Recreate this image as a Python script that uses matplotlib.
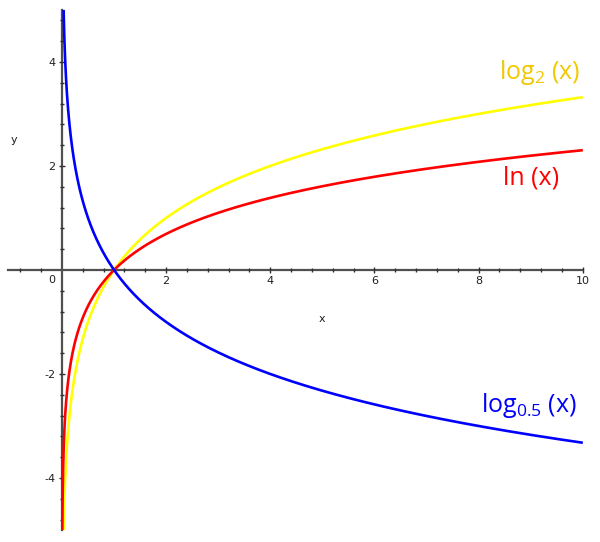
import numpy as np
import matplotlib
matplotlib.use("Agg")
import matplotlib.pyplot as plt
from matplotlib.ticker import FixedLocator

plt.rcParams["axes.unicode_minus"] = False

# data: logarithm bases of the three curves
names = ["log2", "ln", "log0.5"]
bases = [2.0, np.e, 0.5]
line_colors = ["#FFFF00", "#FF0000", "#0000FF"]
label_colors = ["#F2C800", "#FF0000", "#0000FF"]
labels = [r"log$_\mathregular{2}$ (x)", "ln (x)", r"log$_\mathregular{0.5}$ (x)"]
label_pos = [(9.17, 3.8), (9.0, 1.77), (8.96, -2.6)]
x_ticks = [2, 4, 6, 8, 10]
y_ticks = [-4, -2, 2, 4]
x_max = 10
y_lim = 5

fig = plt.figure(figsize=(6.0, 5.42), dpi=100)
ax = fig.add_axes([0, 0, 1, 1])
ax.set_xlim(-1.19, 10.33)
ax.set_ylim(-5.23, 5.19)

for b, c in zip(bases, line_colors):
    xmin = min(b ** -y_lim, b ** y_lim)
    x = np.geomspace(xmin, x_max, 2000)
    y = np.log(x) / np.log(b)
    ax.plot(x, y, color=c, lw=1.9, solid_capstyle="butt", zorder=3)

for t, c, (px, py) in zip(labels, label_colors, label_pos):
    ax.text(px, py, t, color=c, fontsize=18, ha="center", va="center",
            family="Open Sans", fontweight="medium")

for s in ["top", "right"]:
    ax.spines[s].set_visible(False)
ax.spines["left"].set_position(("data", 0))
ax.spines["bottom"].set_position(("data", 0))
ax.spines["left"].set_bounds(-5, 5)
ax.spines["bottom"].set_bounds(-1.04, 10)
for s in ["left", "bottom"]:
    ax.spines[s].set_color("#505050")
    ax.spines[s].set_linewidth(1.6)
    ax.spines[s].set_zorder(1)

ax.xaxis.set_major_locator(FixedLocator(x_ticks))
ax.yaxis.set_major_locator(FixedLocator(y_ticks))
ax.xaxis.set_minor_locator(FixedLocator([v for v in np.arange(-0.8, 10.01, 0.4) if abs(v) > 1e-6]))
ax.yaxis.set_minor_locator(FixedLocator([v for v in np.arange(-4.8, 4.81, 0.4) if abs(v) > 1e-6]))
ax.tick_params(which="both", direction="inout", color="#303030", width=1,
               labelsize=8, labelcolor="#202020")
ax.tick_params(which="major", length=5, pad=2)
ax.tick_params(which="minor", length=3)

ax.text(-0.2, -0.1, "0", fontsize=8, color="#202020", ha="center", va="top")
ax.text(-0.92, 2.5, "y", fontsize=8, color="#202020", ha="center", va="center")
ax.text(5.0, -0.95, "x", fontsize=8, color="#202020", ha="center", va="center")

fig.savefig("out.png", dpi=100)
